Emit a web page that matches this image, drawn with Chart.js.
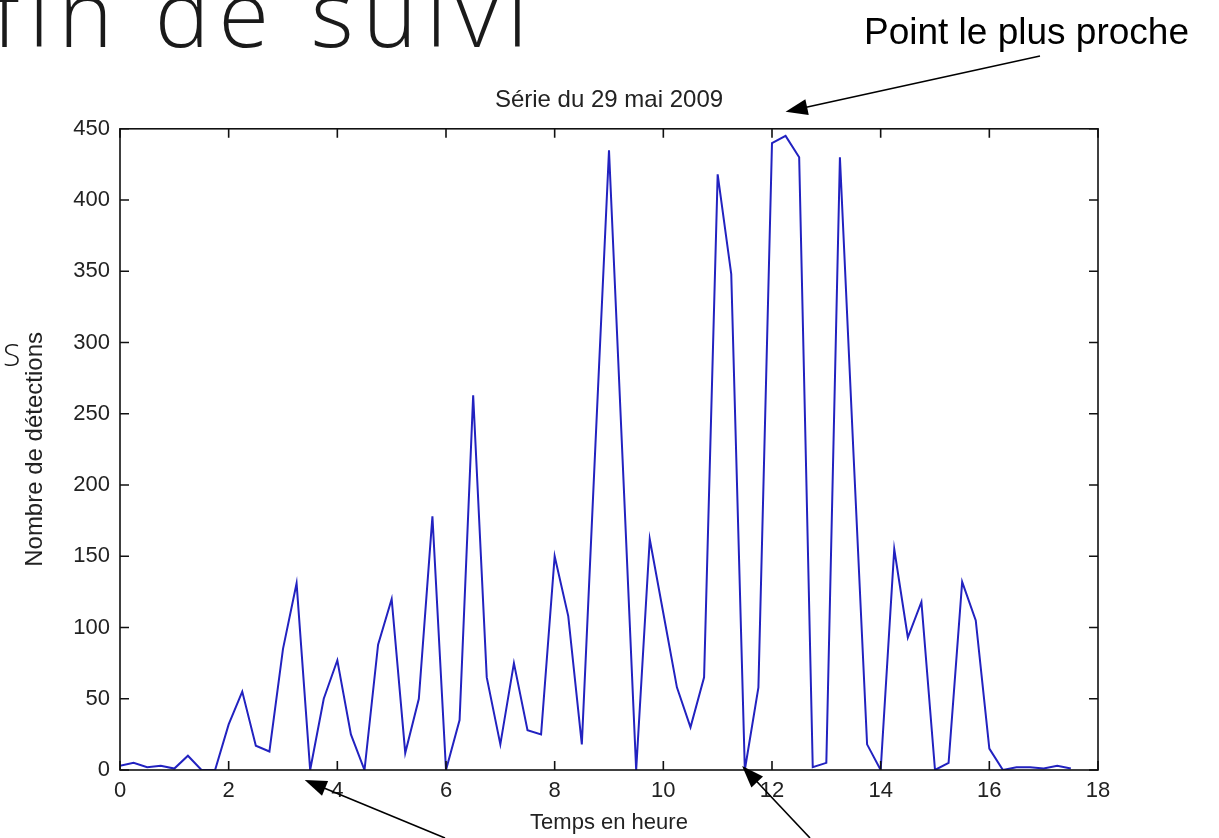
<!DOCTYPE html>
<html><head><meta charset="utf-8">
<script src="https://cdn.jsdelivr.net/npm/chart.js@4.4.1/dist/chart.umd.min.js"></script>
<style>html,body{margin:0;padding:0;background:#fff;overflow:hidden}canvas{display:block}</style>
</head><body>
<canvas id="c" width="1219" height="838"></canvas>
<script>
// ---- data ----
const hours = [0,0.25,0.5,0.75,1,1.25,1.5,1.75,2,2.25,2.5,2.75,3,3.25,3.5,3.75,4,4.25,4.5,4.75,5,5.25,5.5,5.75,6,6.25,6.5,6.75,7,7.25,7.5,7.75,8,8.25,8.5,8.75,9,9.25,9.5,9.75,10,10.25,10.5,10.75,11,11.25,11.5,11.75,12,12.25,12.5,12.75,13,13.25,13.5,13.75,14,14.25,14.5,14.75,15,15.25,15.5,15.75,16,16.25,16.5,16.75,17,17.25,17.5];
const detections = [3,5,2,3,1,10,0,0,32,55,17,13,85,131,0,50,77,25,0,88,120,12,50,178,0,35,263,65,18,75,28,25,150,108,18,228,435,218,0,162,110,58,30,65,418,348,0,58,440,445,430,2,5,430,222,18,0,155,93,118,0,5,132,105,15,0,2,2,1,3,1];
const xTicks = [0,2,4,6,8,10,12,14,16,18];
const yTicks = [0,50,100,150,200,250,300,350,400,450];
const chartTitle = 'Série du 29 mai 2009';
const xTitle = 'Temps en heure';
const yTitle = 'Nombre de détections';
const headline = 'fin de suivi';
const sideLetter = 'S';
const calloutTop = 'Point le plus proche';
const calloutTarget = 12.25;        // hour pointed at by the top arrow
const bottomTargets = [3.4, 11.45]; // hours pointed at by the bottom arrows

const FONT = '"Liberation Sans", Arial, sans-serif';

function arrow(ctx, x1, y1, x2, y2) {
  const a = Math.atan2(y2 - y1, x2 - x1), hl = 22, hw = 8;
  const c = Math.cos(a), s = Math.sin(a);
  ctx.beginPath(); ctx.moveTo(x1, y1); ctx.lineTo(x2 - hl * 0.8 * c, y2 - hl * 0.8 * s); ctx.stroke();
  ctx.beginPath(); ctx.moveTo(x2, y2);
  ctx.lineTo(x2 - hl * c + hw * s, y2 - hl * s - hw * c);
  ctx.lineTo(x2 - hl * c - hw * s, y2 - hl * s + hw * c);
  ctx.closePath(); ctx.fill();
}

const frame = {
  id: 'frame',
  afterDatasetsDraw(chart) {
    const {ctx, chartArea: a, scales: {x, y}} = chart;
    ctx.save();
    ctx.strokeStyle = '#111'; ctx.lineWidth = 1.6;
    ctx.strokeRect(a.left, a.top, a.right - a.left, a.bottom - a.top);
    const L = 9;
    ctx.beginPath();
    xTicks.forEach(v => { const p = x.getPixelForValue(v);
      ctx.moveTo(p, a.bottom); ctx.lineTo(p, a.bottom - L);
      ctx.moveTo(p, a.top); ctx.lineTo(p, a.top + L); });
    yTicks.forEach(v => { const p = y.getPixelForValue(v);
      ctx.moveTo(a.left, p); ctx.lineTo(a.left + L, p);
      ctx.moveTo(a.right, p); ctx.lineTo(a.right - L, p); });
    ctx.stroke();
    ctx.restore();
  },
  afterDraw(chart) {
    const {ctx, chartArea: a, scales: {x}} = chart;
    ctx.save();
    ctx.fillStyle = '#1a1a1a'; ctx.strokeStyle = '#000'; ctx.lineWidth = 1.6;
    // large heading, cut at the top
    ctx.font = '300 92px "Open Sans", sans-serif';
    ctx.letterSpacing = '9px';
    ctx.textBaseline = 'alphabetic'; ctx.textAlign = 'left';
    ctx.fillText(headline, -8, 47);
    ctx.letterSpacing = '0px';
    ctx.font = '300 32px "Open Sans", sans-serif';
    ctx.fillText(sideLetter, 3, 366);
    // callout
    ctx.fillStyle = '#000';
    ctx.font = '37px ' + FONT;
    ctx.fillText(calloutTop, 864, 44);
    arrow(ctx, 1040, 56, x.getPixelForValue(calloutTarget), a.top - 17);
    arrow(ctx, 445, 838, x.getPixelForValue(bottomTargets[0]), a.bottom + 10);
    arrow(ctx, 810, 838, x.getPixelForValue(bottomTargets[1]), a.bottom - 4);
    ctx.restore();
  }
};

new Chart(document.getElementById('c'), {
  type: 'line',
  data: { datasets: [{
    data: hours.map((h, i) => ({x: h, y: detections[i]})),
    borderColor: '#2222c0', borderWidth: 2, pointRadius: 0, tension: 0, fill: false
  }]},
  options: {
    responsive: false, animation: false, devicePixelRatio: 1,
    layout: { padding: { left: 0, right: 121, top: 0, bottom: 0 } },
    plugins: {
      legend: { display: false }, tooltip: { enabled: false },
      title: { display: true, fullSize: false, text: chartTitle, color: '#222',
        font: { family: FONT, size: 24, weight: 'normal' }, padding: { top: 86, bottom: 14 } }
    },
    scales: {
      x: { type: 'linear', min: 0, max: 18,
        afterBuildTicks: s => { s.ticks = xTicks.map(v => ({value: v})); },
        afterFit: s => { s.height = 68; },
        grid: { display: false, drawTicks: false }, border: { display: false },
        ticks: { color: '#222', padding: 8, maxRotation: 0, font: { family: FONT, size: 22 } },
        title: { display: true, text: xTitle, color: '#222', font: { family: FONT, size: 22 }, padding: { top: 0, bottom: 2 } } },
      y: { type: 'linear', min: 0, max: 450,
        afterBuildTicks: s => { s.ticks = yTicks.map(v => ({value: v})); },
        afterFit: s => { s.width = 120; },
        grid: { display: false, drawTicks: false }, border: { display: false },
        ticks: { color: '#222', padding: 10, font: { family: FONT, size: 22 } },
        title: { display: true, text: yTitle, color: '#222', font: { family: FONT, size: 24 }, padding: { top: 21, bottom: 0 } } }
    }
  },
  plugins: [frame]
});
</script>
</body></html>
